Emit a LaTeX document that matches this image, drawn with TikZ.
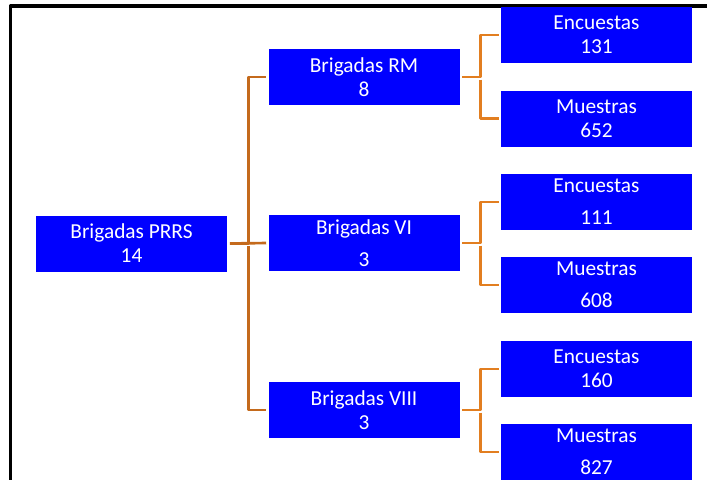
\documentclass[tikz,border=0pt]{standalone}
\usepackage{fontspec}
\setmainfont{Carlito}
\definecolor{boxblue}{RGB}{0,0,255}
\definecolor{linkL}{RGB}{196,106,28}
\definecolor{linkR}{RGB}{226,126,32}
\begin{document}
\begin{tikzpicture}[x=0.75pt, y=-0.75pt, line join=round,
		font=\fontsize{16}{18}\selectfont,
		box/.style={fill=boxblue, text=white, align=center, inner sep=0pt,
			minimum width=143.25pt, minimum height=42pt},
		linkleft/.style={linkL, line width=2pt, shorten <=2pt, shorten >=1.5pt},
		linkright/.style={linkR, line width=2pt, shorten <=2pt, shorten >=1.5pt}]
		\useasboundingbox (0,0) rectangle (707,479);
		\draw[line width=2.6pt] (10.5,495) |- (720,6);
		% first and second level
		\node[box] (root) at (131.5,243.5) {Brigadas PRRS\\14};
		\node[box] (rm) at (364,77) {Brigadas RM\\8};
		\node[box] (vi) at (364,243) {Brigadas VI\\[6pt]3};
		\node[box] (viii) at (364,410) {Brigadas VIII\\3};
		% leaves
		\node[box] (e1) at (596.5,35) {Encuestas\\131};
		\node[box] (m1) at (596.5,118.5) {Muestras\\652};
		\node[box] (e2) at (596.5,202) {Encuestas\\[6pt]111};
		\node[box] (m2) at (596.5,285) {Muestras\\[6pt]608};
		\node[box] (e3) at (596.5,369) {Encuestas\\160};
		\node[box] (m3) at (596.5,452) {Muestras\\[6pt]827};
		\draw[linkleft] (root.east) -- ++(21,0) coordinate (j0) |- (rm.west);
		\draw[linkleft] (j0) |- (viii.west);
		\draw[linkleft] (root.east) -- (vi.west);
		\foreach \m/\a/\b in {rm/e1/m1, vi/e2/m2, viii/e3/m3}{
			\draw[linkright] (\m.east) -- ++(20.5,0) coordinate (\m-j) |- (\a.west);
			\draw[linkright] (\m-j) |- (\b.west);
		}
	\end{tikzpicture}
\end{document}
